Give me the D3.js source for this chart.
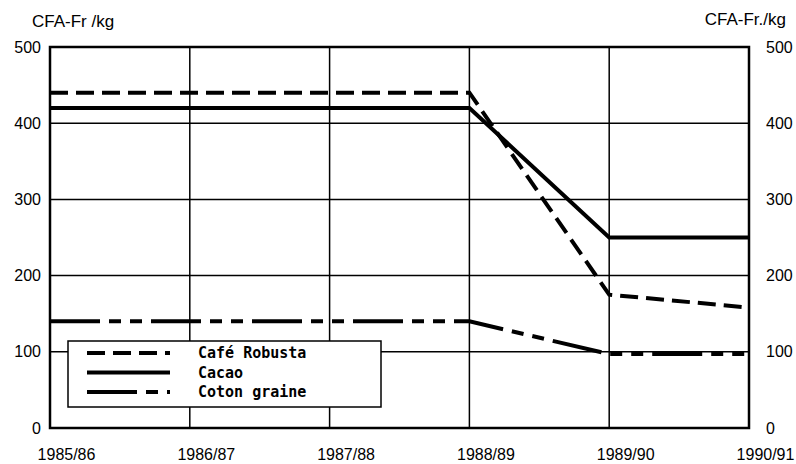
<!DOCTYPE html>
<html>
<head>
<meta charset="utf-8">
<script src="https://cdn.jsdelivr.net/npm/d3@7"></script>
<style>
  body { margin: 0; background: #fff; }
  svg text { font-family: "Liberation Sans", Arial, sans-serif; fill: #000; }
  .legend text { font-family: "DejaVu Sans Mono", monospace; font-weight: bold; }
</style>
</head>
<body>
<div id="chart"></div>
<script>
// campaigns (x axis)
const campaigns = ['1985/86', '1986/87', '1987/88', '1988/89', '1989/90', '1990/91'];
// producer prices, CFA-Fr/kg
const cafeRobusta = [440, 440, 440, 440, 175, 158];
const cacao = [420, 420, 420, 420, 250, 250];
const cotonGraine = [140, 140, 140, 140, 97, 97];
const yTicks = [0, 100, 200, 300, 400, 500];

const series = [
  {name: 'Café Robusta', values: cafeRobusta, dash: '18,8'},
  {name: 'Cacao', values: cacao, dash: ''},
  {name: 'Coton graine', values: cotonGraine, dash: '50,9,12,9,12,9'}
];

const width = 796, height = 464;
const margin = {left: 50, right: 47, top: 47, bottom: 36};

const svg = d3.select('#chart').append('svg')
  .attr('width', width)
  .attr('height', height);

const x = d3.scalePoint()
  .domain(campaigns)
  .range([margin.left, width - margin.right]);

const y = d3.scaleLinear()
  .domain([0, 500])
  .range([height - margin.bottom, margin.top]);

// grid
svg.append('g')
  .attr('class', 'grid')
  .selectAll('line.h')
  .data(yTicks)
  .join('line')
  .attr('x1', margin.left).attr('x2', width - margin.right)
  .attr('y1', d => y(d)).attr('y2', d => y(d))
  .attr('stroke', '#000').attr('stroke-width', 1.5);

svg.append('g')
  .attr('class', 'grid')
  .selectAll('line.v')
  .data(campaigns)
  .join('line')
  .attr('x1', d => x(d)).attr('x2', d => x(d))
  .attr('y1', y(0)).attr('y2', y(500))
  .attr('stroke', '#000').attr('stroke-width', 1.5);

// frame
svg.append('rect')
  .attr('x', margin.left).attr('y', y(500))
  .attr('width', x.range()[1] - margin.left)
  .attr('height', y(0) - y(500))
  .attr('fill', 'none')
  .attr('stroke', '#000')
  .attr('stroke-width', 2.5);

// axes
const yLeft = svg.append('g')
  .attr('transform', 'translate(' + (margin.left - 9) + ',0)')
  .call(d3.axisLeft(y).tickValues(yTicks).tickSize(0).tickPadding(0));
const yRight = svg.append('g')
  .attr('transform', 'translate(' + (width - margin.right + 17) + ',0)')
  .call(d3.axisRight(y).tickValues(yTicks).tickSize(0).tickPadding(0));
const xAxis = svg.append('g')
  .attr('transform', 'translate(16,' + (height - 4) + ')')
  .call(d3.axisBottom(x).tickSize(0).tickPadding(0));

[yLeft, yRight, xAxis].forEach(g => {
  g.select('.domain').remove();
  g.selectAll('text')
    .style('font-family', '"Liberation Sans", Arial, sans-serif')
    .style('font-size', '16px')
    .attr('fill', '#000');
});
xAxis.selectAll('text').attr('y', 0).attr('dy', '0');

// unit labels
svg.append('text')
  .attr('x', 32).attr('y', 27)
  .style('font-size', '17px')
  .text('CFA-Fr /kg');
svg.append('text')
  .attr('x', 786).attr('y', 25)
  .attr('text-anchor', 'end')
  .style('font-size', '17px')
  .text('CFA-Fr./kg');

// lines
const line = d3.line()
  .x((d, i) => x(campaigns[i]))
  .y(d => y(d));

svg.append('g')
  .selectAll('path')
  .data(series)
  .join('path')
  .attr('d', d => line(d.values))
  .attr('fill', 'none')
  .attr('stroke', '#000')
  .attr('stroke-width', 4)
  .attr('stroke-dasharray', d => d.dash || null);

// legend
const legend = svg.append('g').attr('class', 'legend');
legend.append('rect')
  .attr('x', 68).attr('y', 341)
  .attr('width', 313).attr('height', 66)
  .attr('fill', '#fff')
  .attr('stroke', '#000')
  .attr('stroke-width', 1.5);

const rows = legend.selectAll('g.row')
  .data(series)
  .join('g')
  .attr('class', 'row')
  .attr('transform', (d, i) => 'translate(0,' + (353 + i * 19.5) + ')');

rows.append('line')
  .attr('x1', 87).attr('x2', 170)
  .attr('stroke', '#000')
  .attr('stroke-width', 4)
  .attr('stroke-dasharray', d => d.dash || null);

rows.append('text')
  .attr('x', 198).attr('y', 5)
  .style('font-size', '15px')
  .text(d => d.name);
</script>
</body>
</html>
